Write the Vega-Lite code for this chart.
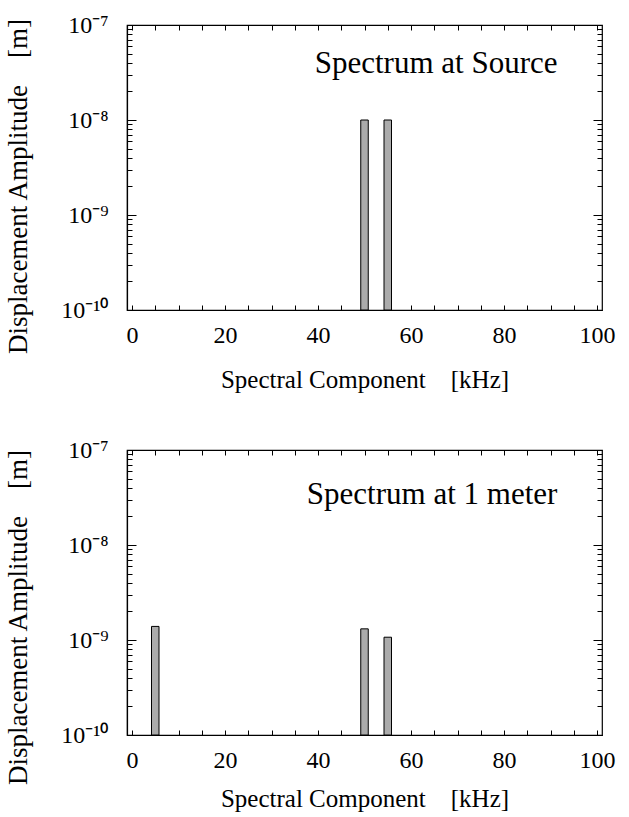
{
  "$schema": "https://vega.github.io/schema/vega-lite/v6.json",
  "padding": {"left": 4, "top": 12, "right": 20, "bottom": 6},
  "background": "white",
  "datasets": {
    "source": [{"freq": 50, "amp": 1e-8}, {"freq": 55, "amp": 1e-8}],
    "meter": [{"freq": 5, "amp": 1.39e-9}, {"freq": 50, "amp": 1.31e-9}, {"freq": 55, "amp": 1.07e-9}],
    "label_source": [{"label": "Spectrum at Source", "freq": 39.3, "amp": 3.9e-8}],
    "label_meter": [{"label": "Spectrum at 1 meter", "freq": 37.6, "amp": 3.4e-8}]
  },
  "config": {
    "font": "Liberation Serif",
    "view": {"stroke": "black", "strokeWidth": 1.2},
    "axis": {
      "labelFont": "Liberation Serif",
      "titleFont": "Liberation Serif",
      "labelColor": "black",
      "titleColor": "black",
      "titleFontWeight": "normal",
      "tickColor": "black",
      "domainColor": "black",
      "grid": false
    }
  },
  "bounds": "flush",
  "spacing": 140,
  "vconcat": [
    {
      "width": 475,
      "height": 285,
      "resolve": {"axis": {"x": "independent", "y": "independent"}},
      "layer": [
        {
          "data": {"name": "source"},
          "mark": {"type": "bar", "size": 7.5, "fill": "#ababab", "stroke": "black", "strokeWidth": 1},
          "encoding": {
            "x": {"field": "freq", "type": "quantitative",
              "scale": {"domain": [0, 100], "nice": false, "zero": false},
              "axis": {"orient": "bottom", "values": [0,5,10,15,20,25,30,35,40,45,50,55,60,65,70,75,80,85,90,95,100],
                "labelExpr": "datum.value % 20 == 0 ? datum.label : ''",
                "tickSize": -5, "labelPadding": 18, "labelFontSize": 24, "labelFlush": false,
                "title": "Spectral Component\u00a0\u00a0\u00a0\u00a0[kHz]", "titleFontSize": 25, "titlePadding": 20, "domainWidth": 1.2}},
            "y": {"field": "amp", "type": "quantitative",
              "scale": {"type": "log", "domain": [1e-10, 1e-7], "nice": false},
              "axis": {"orient": "left",
                "values": [1e-10,2e-10,3e-10,4e-10,5e-10,6e-10,7e-10,8e-10,9e-10,1e-9,2e-9,3e-9,4e-9,5e-9,6e-9,7e-9,8e-9,9e-9,1e-8,2e-8,3e-8,4e-8,5e-8,6e-8,7e-8,8e-8,9e-8,1e-7],
                "labelExpr": "abs(log(datum.value)/LN10 - round(log(datum.value)/LN10)) < 0.001 ? (round(log(datum.value)/LN10) == -7 ? '10⁻⁷' : round(log(datum.value)/LN10) == -8 ? '10⁻⁸' : round(log(datum.value)/LN10) == -9 ? '10⁻⁹' : '10⁻¹⁰') : ''",
                "tickSize": {"condition": {"test": "abs(log(datum.value)/LN10 - round(log(datum.value)/LN10)) < 0.001", "value": -9}, "value": -5},
                "labelPadding": 28, "labelFontSize": 24, "labelFlush": false,
                "title": "Displacement Amplitude\u00a0\u00a0\u00a0\u00a0[m]", "titleFontSize": 27, "titlePadding": 28, "titleY": 161, "domainWidth": 1.2}},
            "y2": {"datum": 1e-10}
          }
        },
        {
          "data": {"name": "label_source"},
          "mark": {"type": "text", "align": "left", "baseline": "middle", "fontSize": 31, "font": "Liberation Serif", "color": "black"},
          "encoding": {
            "x": {"field": "freq", "type": "quantitative",
              "scale": {"domain": [0, 100], "nice": false, "zero": false},
              "axis": {"orient": "top", "values": [0,5,10,15,20,25,30,35,40,45,50,55,60,65,70,75,80,85,90,95,100], "labels": false, "title": null, "tickSize": -5, "domain": false}},
            "y": {"field": "amp", "type": "quantitative",
              "scale": {"type": "log", "domain": [1e-10, 1e-7], "nice": false},
              "axis": {"orient": "right",
                "values": [1e-10,2e-10,3e-10,4e-10,5e-10,6e-10,7e-10,8e-10,9e-10,1e-9,2e-9,3e-9,4e-9,5e-9,6e-9,7e-9,8e-9,9e-9,1e-8,2e-8,3e-8,4e-8,5e-8,6e-8,7e-8,8e-8,9e-8,1e-7],
                "labels": false, "title": null, "domain": false,
                "tickSize": {"condition": {"test": "abs(log(datum.value)/LN10 - round(log(datum.value)/LN10)) < 0.001", "value": -9}, "value": -5}}},
            "text": {"field": "label", "type": "nominal"}
          }
        }
      ]
    },
    {
      "width": 475,
      "height": 285,
      "resolve": {"axis": {"x": "independent", "y": "independent"}},
      "layer": [
        {
          "data": {"name": "meter"},
          "mark": {"type": "bar", "size": 7.5, "fill": "#ababab", "stroke": "black", "strokeWidth": 1},
          "encoding": {
            "x": {"field": "freq", "type": "quantitative",
              "scale": {"domain": [0, 100], "nice": false, "zero": false},
              "axis": {"orient": "bottom", "values": [0,5,10,15,20,25,30,35,40,45,50,55,60,65,70,75,80,85,90,95,100],
                "labelExpr": "datum.value % 20 == 0 ? datum.label : ''",
                "tickSize": -5, "labelPadding": 18, "labelFontSize": 24, "labelFlush": false,
                "title": "Spectral Component\u00a0\u00a0\u00a0\u00a0[kHz]", "titleFontSize": 25, "titlePadding": 14, "domainWidth": 1.2}},
            "y": {"field": "amp", "type": "quantitative",
              "scale": {"type": "log", "domain": [1e-10, 1e-7], "nice": false},
              "axis": {"orient": "left",
                "values": [1e-10,2e-10,3e-10,4e-10,5e-10,6e-10,7e-10,8e-10,9e-10,1e-9,2e-9,3e-9,4e-9,5e-9,6e-9,7e-9,8e-9,9e-9,1e-8,2e-8,3e-8,4e-8,5e-8,6e-8,7e-8,8e-8,9e-8,1e-7],
                "labelExpr": "abs(log(datum.value)/LN10 - round(log(datum.value)/LN10)) < 0.001 ? (round(log(datum.value)/LN10) == -7 ? '10⁻⁷' : round(log(datum.value)/LN10) == -8 ? '10⁻⁸' : round(log(datum.value)/LN10) == -9 ? '10⁻⁹' : '10⁻¹⁰') : ''",
                "tickSize": {"condition": {"test": "abs(log(datum.value)/LN10 - round(log(datum.value)/LN10)) < 0.001", "value": -9}, "value": -5},
                "labelPadding": 28, "labelFontSize": 24, "labelFlush": false,
                "title": "Displacement Amplitude\u00a0\u00a0\u00a0\u00a0[m]", "titleFontSize": 27, "titlePadding": 28, "titleY": 167, "domainWidth": 1.2}},
            "y2": {"datum": 1e-10}
          }
        },
        {
          "data": {"name": "label_meter"},
          "mark": {"type": "text", "align": "left", "baseline": "middle", "fontSize": 31, "font": "Liberation Serif", "color": "black"},
          "encoding": {
            "x": {"field": "freq", "type": "quantitative",
              "scale": {"domain": [0, 100], "nice": false, "zero": false},
              "axis": {"orient": "top", "values": [0,5,10,15,20,25,30,35,40,45,50,55,60,65,70,75,80,85,90,95,100], "labels": false, "title": null, "tickSize": -5, "domain": false}},
            "y": {"field": "amp", "type": "quantitative",
              "scale": {"type": "log", "domain": [1e-10, 1e-7], "nice": false},
              "axis": {"orient": "right",
                "values": [1e-10,2e-10,3e-10,4e-10,5e-10,6e-10,7e-10,8e-10,9e-10,1e-9,2e-9,3e-9,4e-9,5e-9,6e-9,7e-9,8e-9,9e-9,1e-8,2e-8,3e-8,4e-8,5e-8,6e-8,7e-8,8e-8,9e-8,1e-7],
                "labels": false, "title": null, "domain": false,
                "tickSize": {"condition": {"test": "abs(log(datum.value)/LN10 - round(log(datum.value)/LN10)) < 0.001", "value": -9}, "value": -5}}},
            "text": {"field": "label", "type": "nominal"}
          }
        }
      ]
    }
  ]
}
